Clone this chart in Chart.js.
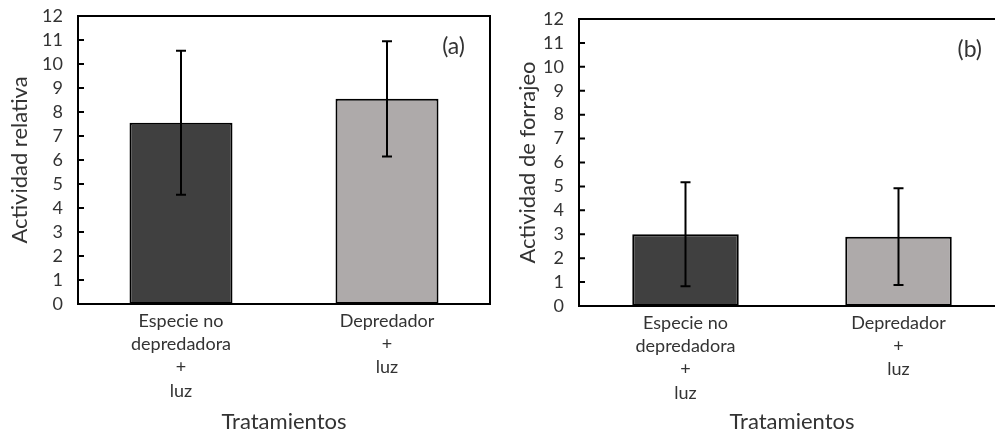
<!DOCTYPE html>
<html lang="es">
<head>
<meta charset="UTF-8">
<title>Actividad por tratamiento</title>
<script src="https://cdn.jsdelivr.net/npm/chart.js"></script>
<style>
  html, body { margin: 0; padding: 0; background: #fff; }
  #wrap { position: relative; width: 995px; height: 436px; overflow: hidden; }
  #chartA { position: absolute; left: 0; top: 0; }
  #chartB { position: absolute; left: 495px; top: 0; }
</style>
</head>
<body>
<div id="wrap">
  <canvas id="chartA" width="495" height="436"></canvas>
  <canvas id="chartB" width="520" height="436"></canvas>
</div>
<script>
// data
const categories = [['Especie no', 'depredadora', '+', 'luz'], ['Depredador', '+', 'luz']];
const barColors = ['#404040', '#AEAAAA'];
const yTicks = [0, 12, 1];  // min, max, step

const actividadRelativa = [7.55, 8.55];
const errorRelativa = [3.0, 2.4];

const actividadForrajeo = [3.0, 2.9];
const errorForrajeo = [2.17, 2.02];

const FONT = 'Lato, "Open Sans", sans-serif';
const TXT = '#333333';

// box around plot area, inner ticks on y axis, error bars and panel letter
const decorPlugin = {
  id: 'decor',
  afterDatasetsDraw(chart, args, opts) {
    const ctx = chart.ctx;
    const a = chart.chartArea;
    const y = chart.scales.y;
    ctx.save();
    ctx.strokeStyle = '#000';
    ctx.lineWidth = 2;

    // error bars
    const meta = chart.getDatasetMeta(0);
    const vals = chart.data.datasets[0].data;
    meta.data.forEach((bar, i) => {
      const top = y.getPixelForValue(vals[i] + opts.errors[i]);
      const bot = y.getPixelForValue(vals[i] - opts.errors[i]);
      ctx.beginPath();
      ctx.moveTo(bar.x, top); ctx.lineTo(bar.x, bot);
      ctx.moveTo(bar.x - 5, top); ctx.lineTo(bar.x + 5, top);
      ctx.moveTo(bar.x - 5, bot); ctx.lineTo(bar.x + 5, bot);
      ctx.stroke();
    });

    // frame
    ctx.strokeRect(a.left, a.top, a.right - a.left, a.bottom - a.top);

    // tick marks pointing inward
    ctx.beginPath();
    y.ticks.forEach(t => {
      const py = y.getPixelForValue(t.value);
      ctx.moveTo(a.left, py); ctx.lineTo(a.left + 6, py);
    });
    ctx.stroke();

    // panel letter
    ctx.fillStyle = TXT;
    ctx.font = '23px ' + FONT;
    ctx.textAlign = 'right';
    ctx.textBaseline = 'middle';
    ctx.fillText(opts.letter, a.right - opts.letterDx, a.top + 31);
    ctx.restore();
  }
};

function makeChart(id, values, errors, yTitle, letter, letterDx, pad, yWidth, xHeight, titlePad) {
  return new Chart(document.getElementById(id), {
    type: 'bar',
    data: {
      labels: categories,
      datasets: [{
        data: values,
        backgroundColor: barColors,
        borderColor: '#000',
        borderWidth: 2,
        borderSkipped: false,
        categoryPercentage: 1,
        barPercentage: 0.5
      }]
    },
    options: {
      responsive: false,
      animation: false,
      devicePixelRatio: 1,
      layout: { padding: pad },
      plugins: {
        legend: { display: false },
        tooltip: { enabled: false },
        decor: { errors: errors, letter: letter, letterDx: letterDx }
      },
      scales: {
        x: {
          grid: { display: false, drawTicks: false },
          border: { display: false },
          afterFit: s => { s.height = xHeight; },
          ticks: {
            color: TXT,
            padding: 5,
            maxRotation: 0,
            autoSkip: false,
            font: { family: FONT, size: 18, lineHeight: 1.3 }
          },
          title: {
            display: true,
            text: 'Tratamientos',
            color: TXT,
            padding: { top: 0, bottom: 1 },
            font: { family: FONT, size: 22 }
          }
        },
        y: {
          min: yTicks[0],
          max: yTicks[1],
          grid: { display: false, drawTicks: false },
          border: { display: false },
          afterFit: s => {
            s.width = yWidth;
            // keep the plot top where the layout padding puts it
            s.paddingTop = 0;
            s.paddingBottom = 0;
          },
          ticks: {
            stepSize: yTicks[2],
            autoSkip: false,
            color: TXT,
            padding: 15,
            font: { family: FONT, size: 18, lineHeight: 1 }
          },
          title: {
            display: true,
            text: yTitle,
            color: TXT,
            padding: { top: titlePad, bottom: 0 },
            font: { family: FONT, size: 22 }
          }
        }
      }
    },
    plugins: [decorPlugin]
  });
}

makeChart('chartA', actividadRelativa, errorRelativa, 'Actividad relativa', '(a)', 25,
  { left: 0, right: 5, top: 16, bottom: 0 }, 78, 132, 7);
makeChart('chartB', actividadForrajeo, errorForrajeo, 'Actividad de forrajeo', '(b)', 23,
  { left: 0, right: 10, top: 19, bottom: 0 }, 84, 130, 20);
</script>
</body>
</html>
